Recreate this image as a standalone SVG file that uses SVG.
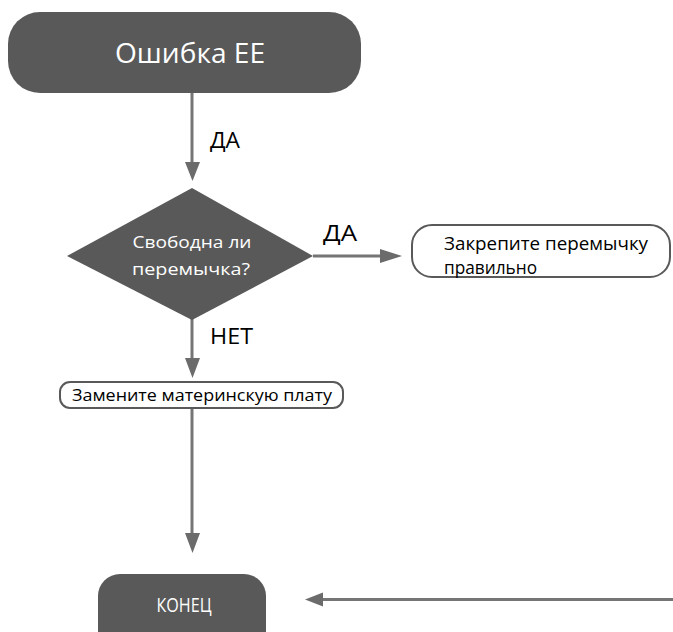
<svg xmlns="http://www.w3.org/2000/svg" width="673" height="632" viewBox="0 0 673 632">
  <style>
    .term { fill: #595959; }
    .box { fill: #ffffff; stroke: #595959; stroke-width: 2; }
    .wt { fill: #ffffff; font-family: "Open Sans", "Noto Sans", sans-serif; }
    .bt { fill: #000000; font-family: "Open Sans", "Noto Sans", sans-serif; }
    .edge { stroke: #757575; stroke-width: 3; fill: none; }
    .head { fill: #6b6b6b; }
  </style>
  <rect width="673" height="632" fill="#ffffff"/>

  <g id="connectors">
    <line class="edge" x1="192" y1="93" x2="192" y2="164"/>
    <polygon class="head" points="185,162 200,162 192.5,181"/>
    <text class="bt" x="210" y="148" font-size="21" textLength="30" lengthAdjust="spacingAndGlyphs">ДА</text>

    <line class="edge" x1="313" y1="256" x2="382" y2="256"/>
    <polygon class="head" points="380,249 380,263 402,256"/>
    <text class="bt" x="323" y="241" font-size="21" textLength="34" lengthAdjust="spacingAndGlyphs">ДА</text>

    <line class="edge" x1="192" y1="318" x2="192" y2="360"/>
    <polygon class="head" points="185,358 200,358 192.5,378"/>
    <text class="bt" x="210" y="344" font-size="21" textLength="43" lengthAdjust="spacingAndGlyphs">НЕТ</text>

    <line class="edge" x1="192" y1="408" x2="192" y2="535"/>
    <polygon class="head" points="185,533 200,533 192.5,553"/>

    <line class="edge" x1="673" y1="599.5" x2="321" y2="599.5"/>
    <polygon class="head" points="323,592.5 323,606.5 305,599.5"/>
  </g>

  <g id="start">
    <rect class="term" x="8" y="12" width="353" height="81" rx="32"/>
    <text class="wt" x="190" y="63" font-size="27" text-anchor="middle" textLength="150" lengthAdjust="spacingAndGlyphs">Ошибка ЕЕ</text>
  </g>

  <g id="decision">
    <polygon class="term" points="192,188 313,256 192,320 67,256"/>
    <text class="wt" x="192" y="248" font-size="17" text-anchor="middle" textLength="119" lengthAdjust="spacingAndGlyphs">Свободна ли</text>
    <text class="wt" x="191" y="275" font-size="17" text-anchor="middle" textLength="118" lengthAdjust="spacingAndGlyphs">перемычка?</text>
  </g>

  <g id="fix-jumper">
    <rect class="box" x="412" y="225" width="258" height="52" rx="20"/>
    <text class="bt" x="444" y="250" font-size="18" textLength="204" lengthAdjust="spacingAndGlyphs">Закрепите перемычку</text>
    <text class="bt" x="444" y="274" font-size="18" textLength="93" lengthAdjust="spacingAndGlyphs">правильно</text>
  </g>

  <g id="replace-board">
    <rect class="box" x="60" y="382" width="283" height="26" rx="10"/>
    <text class="bt" x="72" y="401" font-size="17" textLength="260" lengthAdjust="spacingAndGlyphs">Замените материнскую плату</text>
  </g>

  <g id="end">
    <rect class="term" x="98" y="574" width="168" height="80" rx="22"/>
    <text class="wt" x="184" y="612" font-size="20" text-anchor="middle" textLength="55" lengthAdjust="spacingAndGlyphs">КОНЕЦ</text>
  </g>
</svg>
